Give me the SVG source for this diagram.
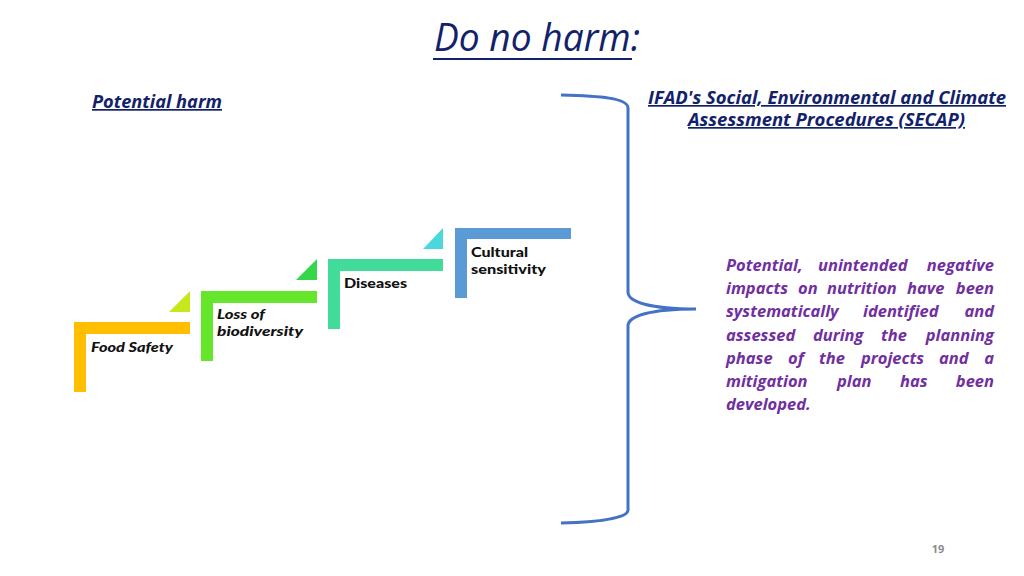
<svg xmlns="http://www.w3.org/2000/svg" width="1024" height="576" viewBox="0 0 1024 576">
<style>
.navy{fill:#12226A;font-family:"Open Sans","Noto Sans",sans-serif;font-style:italic}
.hb{font-weight:700;font-size:17px;text-decoration:underline}
.step{font-family:"Lato","Open Sans",sans-serif;font-weight:900;font-size:13px;fill:#111}
.p{font-family:"Open Sans","Noto Sans",sans-serif;font-style:italic;font-weight:700;font-size:16.5px;fill:#7030A0}
</style>
<rect width="1024" height="576" fill="#fff"/>
<g id="title">
<text class="navy" x="434" y="51" font-size="38" textLength="206" lengthAdjust="spacingAndGlyphs">Do no harm:</text>
<rect x="433" y="58" width="199" height="2" fill="#12226A"/>
</g>
<g id="potential-harm"><text class="navy hb" x="92" y="108" textLength="130" lengthAdjust="spacingAndGlyphs">Potential harm</text></g>
<g id="secap-title">
<text class="navy hb" x="648" y="104" textLength="358" lengthAdjust="spacingAndGlyphs">IFAD's Social, Environmental and Climate</text>
<text class="navy hb" x="688" y="126" textLength="277" lengthAdjust="spacingAndGlyphs">Assessment Procedures (SECAP)</text>
</g>
<g id="step-food-safety">
<path d="M74,322H190V334H86V392H74Z" fill="#FFBF00"/>
<path d="M169,312H190V291Z" fill="#C6E81C"/>
<text class="step" x="91" y="352" font-style="italic" textLength="82" lengthAdjust="spacingAndGlyphs">Food Safety</text>
</g>
<g id="step-biodiversity">
<path d="M201,291H317V303H213V361H201Z" fill="#66E62A"/>
<path d="M296,280H317V259Z" fill="#34D64A"/>
<text class="step" x="217" y="319" font-style="italic" textLength="48" lengthAdjust="spacingAndGlyphs">Loss of</text>
<text class="step" x="217" y="336" font-style="italic" textLength="86" lengthAdjust="spacingAndGlyphs">biodiversity</text>
</g>
<g id="step-diseases">
<path d="M328,259H443V271H340V329H328Z" fill="#42DC9A"/>
<path d="M423,249H443V228Z" fill="#4BD8DC"/>
<text class="step" x="344" y="288" textLength="63" lengthAdjust="spacingAndGlyphs">Diseases</text>
</g>
<g id="step-cultural">
<path d="M455,228H571V239H467V298H455Z" fill="#5B9BD5"/>
<text class="step" x="471" y="257" textLength="57" lengthAdjust="spacingAndGlyphs">Cultural</text>
<text class="step" x="471" y="274" textLength="75" lengthAdjust="spacingAndGlyphs">sensitivity</text>
</g>
<g id="connectors">
<path d="M561,95C600,96 628,98 628,108L628,292C628,302 650,309 696,309C650,309 628,316 628,326L628,510C628,518 600,522 561,523" fill="none" stroke="#4472C4" stroke-width="3"/>
</g>
<g id="description" class="p">
<text y="271"><tspan x="726">Potential,</tspan><tspan x="818">unintended</tspan><tspan x="994" text-anchor="end">negative</tspan></text>
<text y="294"><tspan x="726">impacts</tspan><tspan x="798">on</tspan><tspan x="827">nutrition</tspan><tspan x="907">have</tspan><tspan x="994" text-anchor="end">been</tspan></text>
<text y="317"><tspan x="726">systematically</tspan><tspan x="863">identified</tspan><tspan x="994" text-anchor="end">and</tspan></text>
<text y="341"><tspan x="726">assessed</tspan><tspan x="813">during</tspan><tspan x="881">the</tspan><tspan x="994" text-anchor="end">planning</tspan></text>
<text y="364"><tspan x="726">phase</tspan><tspan x="788">of</tspan><tspan x="819">the</tspan><tspan x="861">projects</tspan><tspan x="939">and</tspan><tspan x="994" text-anchor="end">a</tspan></text>
<text y="387"><tspan x="726">mitigation</tspan><tspan x="837">plan</tspan><tspan x="900">has</tspan><tspan x="994" text-anchor="end">been</tspan></text>
<text y="410"><tspan x="726">developed.</tspan></text>
</g>
<text x="938" y="553" font-family="Open Sans, sans-serif" font-size="11" font-weight="700" fill="#8C8C8C" text-anchor="middle">19</text>
</svg>
